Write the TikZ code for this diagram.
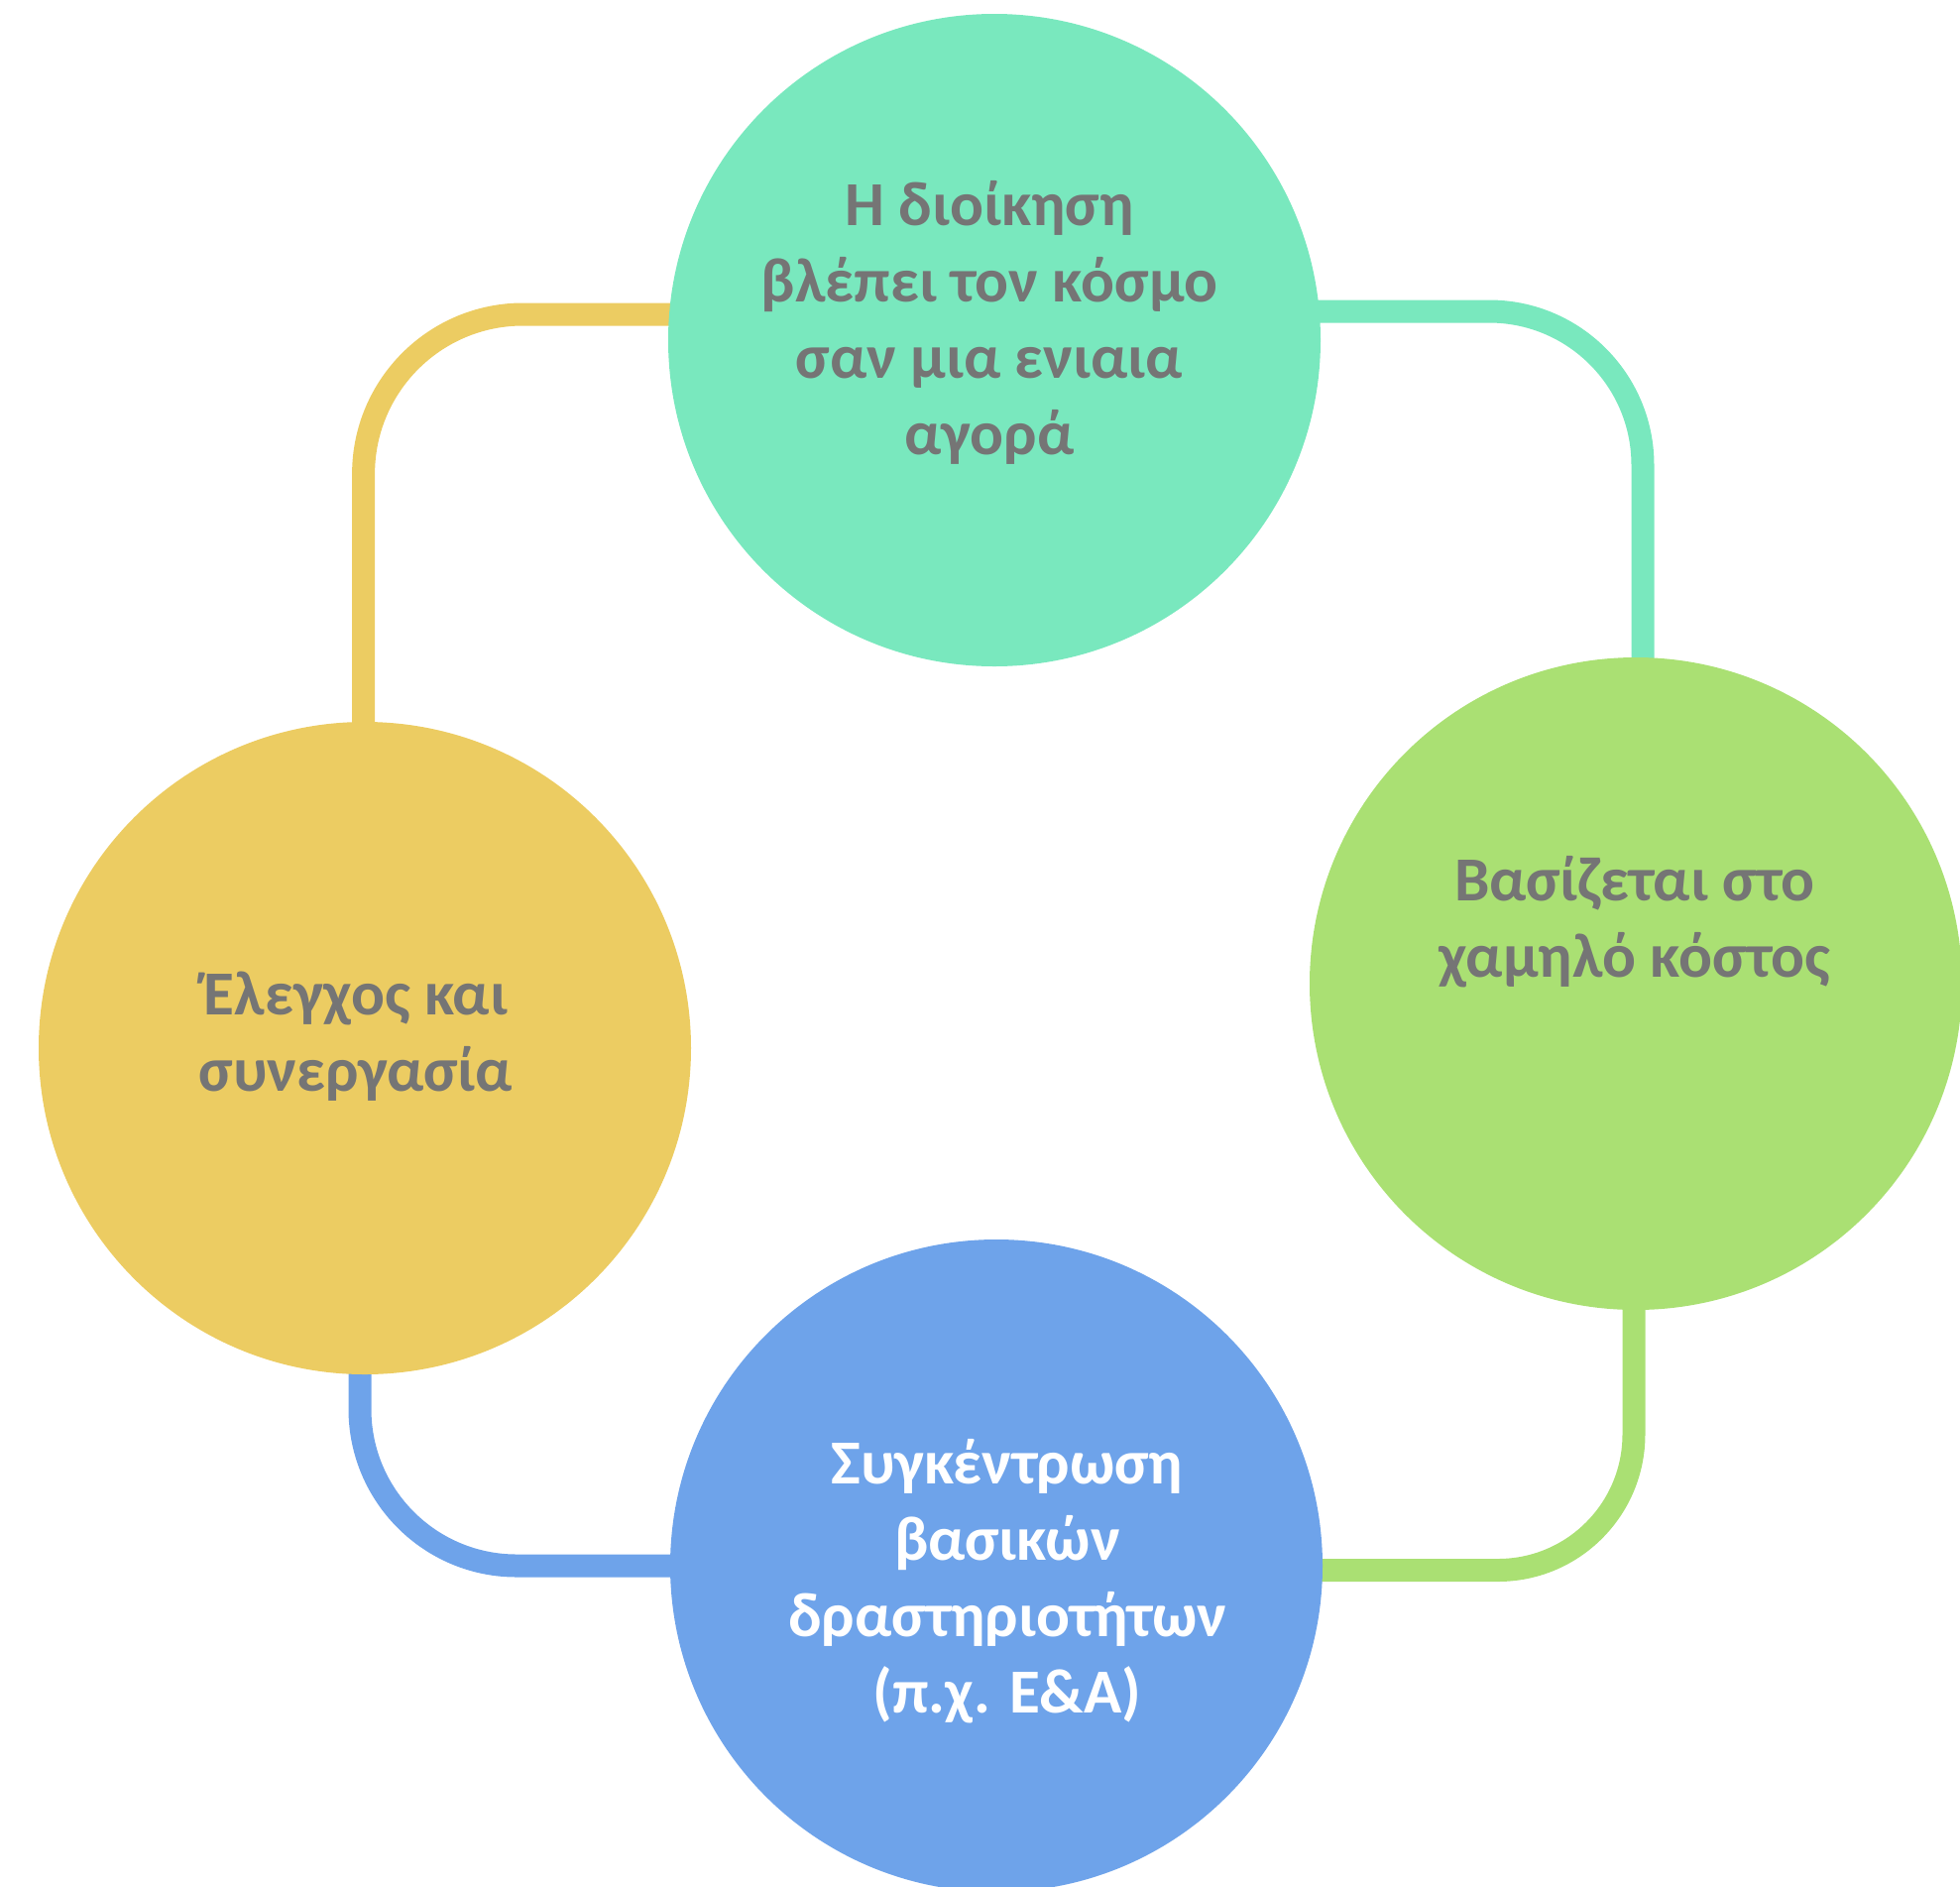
\documentclass[tikz,border=0pt]{standalone}
\usepackage{fontspec}
\setmainfont{Carlito}
\pgfdeclarelayer{background}
\pgfsetlayers{background,main}
\definecolor{cTeal}{HTML}{79E8BE}
\definecolor{cGreen}{HTML}{AAE073}
\definecolor{cBlue}{HTML}{6EA3EA}
\definecolor{cYellow}{HTML}{ECCC62}
\definecolor{cText}{HTML}{757575}
\tikzset{
  bubble/.style={circle, fill=#1, draw=none, minimum size=329pt, inner sep=0pt},
  % anchor=base sits on the baseline of the last line
  label text/.style={align=center, inner sep=0pt, anchor=base,
    font=\bfseries\fontsize{31.6}{38.5}\selectfont, text=#1},
  link/.style={draw=#1, line width=11.5pt},
}
\begin{document}
\begin{tikzpicture}[x=0.5pt, y=-0.5pt]
\useasboundingbox (0,0) rectangle (1977,1902);

% the four circles
\node[bubble=cTeal]   (top)    at (1003,343)  {};
\node[bubble=cGreen]  (right)  at (1650,992)  {};
\node[bubble=cBlue]   (bottom) at (1005,1579) {};
\node[bubble=cYellow] (left)   at (368,1057)  {};

% rounded links between neighbouring circles, behind them
\begin{pgfonlayer}{background}
\draw[link=cTeal, rounded corners=77.5pt]
  ([yshift=14.5pt]top.center) -| ([xshift=3.5pt]right.center);
\draw[link=cGreen, rounded corners=68.5pt]
  ([xshift=-1pt]right.center) |- ([yshift=-2.25pt]bottom.center);
\draw[link=cBlue, rounded corners=79pt]
  (bottom.center) -| ([xshift=-2.5pt]left.center);
\draw[link=cYellow, rounded corners=80.5pt]
  ([xshift=-0.7pt]left.center) |- ([yshift=13pt]top.center);
\end{pgfonlayer}

% texts
\node[label text=cText] (topText) at (998,458)
  {Η διοίκηση\\βλέπει τον κόσμο\\σαν μια ενιαια\\αγορά};
\node[label text=cText] (rightText) at (1649,985)
  {Βασίζεται στο\\χαμηλό κόστος};
\node[label text=white] (bottomText) at (1016,1727)
  {Συγκέντρωση\\βασικών\\δραστηριοτήτων\\(π.χ. Ε\&Α)};
\node[label text=cText] (leftText) at (359,1100)
  {Έλεγχος και\\συνεργασία};
\end{tikzpicture}
\end{document}
